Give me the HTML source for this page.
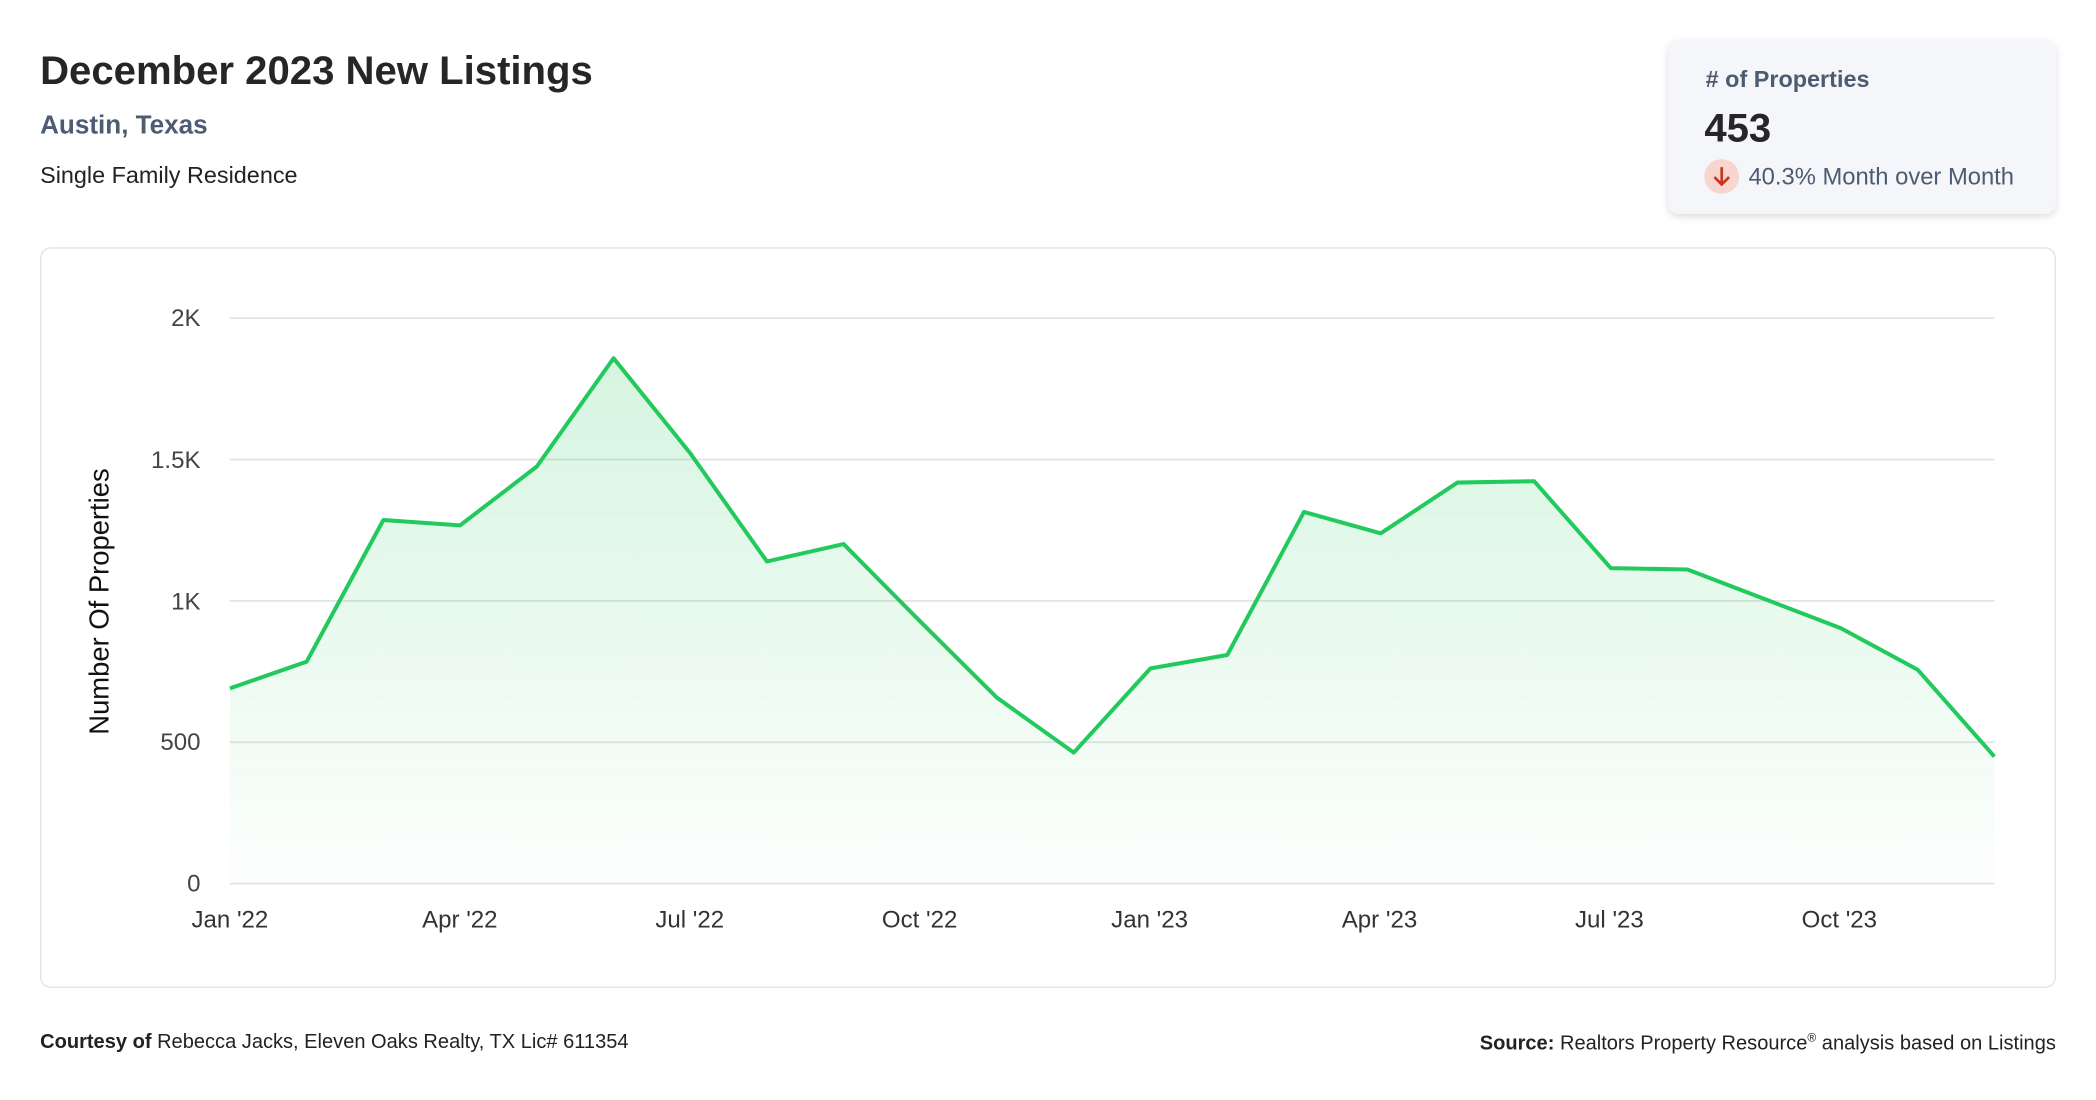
<!DOCTYPE html>
<html><head><meta charset="utf-8"><style>
html,body{margin:0;padding:0;background:#fff;width:2096px;height:1100px;overflow:hidden}
#w{position:absolute;left:0;top:0;width:1568px;height:823px;transform:scale(1.33673);transform-origin:0 0;font-family:"Liberation Sans",sans-serif}
.a{position:absolute;white-space:nowrap}
</style></head><body><div id="w">
<div class="a" style="left:30px;top:37px;font-size:30px;font-weight:bold;color:#262626">December 2023 New Listings</div>
<div class="a" style="left:30px;top:83px;font-size:19.5px;font-weight:bold;color:#4d5b73">Austin, Texas</div>
<div class="a" style="left:30px;top:121px;font-size:17.5px;color:#222">Single Family Residence</div>
<div class="a" style="left:1248px;top:30px;width:290px;height:130px;background:#f5f6fa;border-radius:8px;box-shadow:0 2px 6px rgba(0,0,0,0.13)"></div>
<div class="a" style="left:1276px;top:49px;font-size:17.5px;font-weight:bold;color:#4d5b70"># of Properties</div>
<div class="a" style="left:1275px;top:80px;font-size:30px;font-weight:bold;color:#262626">453</div>
<div class="a" style="left:1275px;top:119px;width:26px;height:26px;border-radius:13px;background:#f8d5cf"></div>
<svg class="a" style="left:1275px;top:119px" width="26" height="26"><path d="M13 6 V19 M7.5 13.5 L13 19 L18.5 13.5" stroke="#c8361f" stroke-width="2" fill="none"/></svg>
<div class="a" style="left:1308px;top:122px;font-size:17.8px;color:#4d5b70">40.3% Month over Month</div>
<div class="a" style="left:30px;top:185px;width:1506px;height:552px;border:1px solid #dde3ec;border-radius:8px"></div>
<svg class="a" style="left:0;top:0" width="1568" height="823">
<defs><linearGradient id="g" gradientUnits="userSpaceOnUse" x1="0" y1="268" x2="0" y2="661"><stop offset="0" stop-color="#2ecc63" stop-opacity="0.2"/><stop offset="1" stop-color="#2ecc63" stop-opacity="0.01"/></linearGradient></defs>
<g stroke="#e3e3e3" stroke-width="1.3">
<line x1="172" x2="1492" y1="238" y2="238"/><line x1="172" x2="1492" y1="343.75" y2="343.75"/><line x1="172" x2="1492" y1="449.5" y2="449.5"/><line x1="172" x2="1492" y1="555.25" y2="555.25"/><line x1="172" x2="1492" y1="661" y2="661"/></g>
<g font-size="18" fill="#444" text-anchor="end">
<text x="150" y="244">2K</text><text x="150" y="350">1.5K</text><text x="150" y="456">1K</text><text x="150" y="561">500</text><text x="150" y="667">0</text></g>
<g font-size="18" fill="#333" text-anchor="middle">
<text x="172" y="694">Jan '22</text><text x="344" y="694">Apr '22</text><text x="516" y="694">Jul '22</text><text x="688" y="694">Oct '22</text><text x="860" y="694">Jan '23</text><text x="1032" y="694">Apr '23</text><text x="1204" y="694">Jul '23</text><text x="1376" y="694">Oct '23</text></g>
<text transform="translate(81,450) rotate(-90)" font-size="20.5" fill="#111" text-anchor="middle">Number Of Properties</text>
<path fill="url(#g)" d="M172,515 L229.4,495 L286.8,389 L344.2,393 L401.6,349 L459,268 L516.3,339 L573.7,420 L631.1,407 L688.5,465 L745.9,522 L803.3,563 L860.7,500 L918.1,490 L975.5,383 L1032.9,399 L1090.3,361 L1147.7,360 L1205,425 L1262.4,426 L1319.8,448 L1377.2,470 L1434.6,501 L1492,566 L1492,661 L172,661 Z"/>
<polyline fill="none" stroke="#22c95c" stroke-width="3" stroke-linejoin="round" points="172,515 229.4,495 286.8,389 344.2,393 401.6,349 459,268 516.3,339 573.7,420 631.1,407 688.5,465 745.9,522 803.3,563 860.7,500 918.1,490 975.5,383 1032.9,399 1090.3,361 1147.7,360 1205,425 1262.4,426 1319.8,448 1377.2,470 1434.6,501 1492,566"/>
</svg>
<div class="a" style="left:30px;top:771px;font-size:15px;color:#222"><b>Courtesy of</b> Rebecca Jacks, Eleven Oaks Realty, TX Lic# 611354</div>
<div class="a" style="right:30px;top:771px;font-size:15px;color:#222"><b>Source:</b> Realtors Property Resource<sup style="font-size:9px">®</sup> analysis based on Listings</div>
</div></body></html>
